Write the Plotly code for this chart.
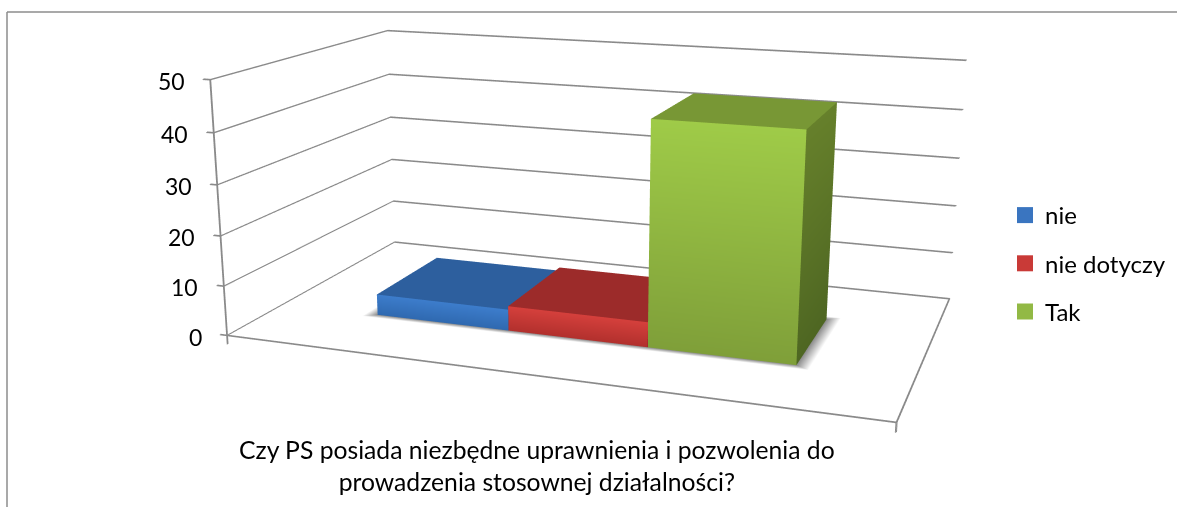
import numpy as np
import plotly.graph_objects as go

# ---- data ----
series = ["nie", "nie dotyczy", "Tak"]
values = [4.3, 5.0, 44.0]
ticks = [0, 10, 20, 30, 40, 50]
title_text = "Czy PS posiada niezbędne uprawnienia i pozwolenia do<br>prowadzenia stosownej działalności?"

# ---- colours ----
face_front_top = ["#3d7dcc", "#d5403c", "#9fcb48"]
face_front_bot = ["#2f69b0", "#b2302d", "#7f9f39"]
face_top = ["#2d5f9e", "#9c2b2a", "#789735"]
face_side = ["#285488", "#7f2221", "#66802b"]
face_side_bot = ["#234a78", "#6c1c1c", "#4e6622"]
legend_col = ["#3a75c0", "#c93a37", "#92b945"]
GRID = "#8a8a8a"

# ---- bar layout in the unit floor of the scene ----
BAR_START, BAR_W, DEPTH0, DEPTH1 = 0.1674, 0.2221, 0.3002, 0.6941

# ---- camera fitted to the reference's long-lens view ----
EYE = np.array([0.7401, -2.1454, 0.5561])
CEN = np.array([-0.1459, 0.2701, -0.1789])
AY, AZ = 0.5611, 0.3882
CX = 573.0
W, H, TOP = 1177, 1264, -378  # the scene is tall (narrow field of view); the page shows a window of it

xr = [-0.02, 1.004]
yr = [-0.002, 1.002]
zr = [-2.2, 50.4]
c = np.array([(sum(xr) / 2 - .5), (sum(yr) / 2 - .5) * AY, (sum(zr) / 2 / 50 - .5) * AZ])
eye = EYE - c
cen = CEN - c
LIGHT = dict(ambient=1, diffuse=0, specular=0, fresnel=0, roughness=1)


def py(y):
    return 1 - (y - TOP) / H


fig = go.Figure()

# soft shadow under the bars
n_bars = len(series)
sx0, sx1 = BAR_START, BAR_START + n_bars * BAR_W
dx, dy = 0.02, 0.025
xs = [sx0, sx1, sx1, sx0, sx0 - dx, sx1 + dx, sx1 + dx, sx0 - dx]
ys = [DEPTH0, DEPTH0, DEPTH1, DEPTH1, DEPTH0 - dy, DEPTH0 - dy, DEPTH1 + dy, DEPTH1 + dy]
vc = ["#8a8a8a"] * 4 + ["#ffffff"] * 4
ti, tj, tk = [], [], []
for a in range(4):
    b = (a + 1) % 4
    ti += [a, a]
    tj += [b, b + 4]
    tk += [b + 4, a + 4]
fig.add_trace(go.Mesh3d(x=xs, y=ys, z=[0] * 8, i=ti, j=tj, k=tk, vertexcolor=vc, lighting=LIGHT,
                        hoverinfo="skip", showlegend=False))

# walls' gridlines, floor outline and tick marks
gx, gy, gz = [], [], []
for t in ticks:
    gx += [0, 0, 1, None, -0.012, 0, None]
    gy += [0, 1, 1, None, 0, 0, None]
    gz += [t, t, t, None, t, t, None]
gx += [0, 0, None, 1, 1, None, 1, 0, None, 1, 1, None, 0, 0]
gy += [0, 0, None, 0, 0, None, 0, 0, None, 0, 1, None, 0, 0]
gz += [0, ticks[-1], None, 0, -1.8, None, 0, 0, None, 0, 0, None, 0, -1.8]
# WebGL draws these one pixel wide, so a slightly offset second pass gives the reference's heavier stroke
for ox, oz in [(0, 0), (0.0014, 0.13)]:
    fig.add_trace(go.Scatter3d(x=[None if v is None else v + ox for v in gx], y=gy,
                               z=[None if v is None else v + oz for v in gz], mode="lines",
                               line=dict(color=GRID, width=2), hoverinfo="skip", showlegend=False))

# bars
for n, name in enumerate(series):
    x0, x1 = BAR_START + n * BAR_W, BAR_START + (n + 1) * BAR_W
    y0, y1 = DEPTH0, DEPTH1
    h = values[n]
    X = [x0, x1, x1, x0, x0, x1, x1, x0, x1, x1, x1, x1]
    Y = [y0, y0, y0, y0, y0, y0, y1, y1, y0, y1, y1, y0]
    Z = [0, 0, h, h, h, h, h, h, 0, 0, h, h]
    C = [face_front_bot[n]] * 2 + [face_front_top[n]] * 2 + [face_top[n]] * 4 + [face_side_bot[n]] * 2 + [face_side[n]] * 2
    fig.add_trace(go.Mesh3d(x=X, y=Y, z=Z, i=[0, 0, 4, 4, 8, 8], j=[1, 2, 5, 6, 9, 10], k=[2, 3, 6, 7, 10, 11],
                            vertexcolor=C, lighting=LIGHT, hoverinfo="skip", showlegend=False))
    # legend key: the marker sits on the floor inside the bar, where the bar hides it
    fig.add_trace(go.Scatter3d(x=[(x0 + x1) / 2], y=[(y0 + y1) / 2], z=[0], mode="markers", name=name,
                               legendgroup=name, hoverinfo="skip",
                               marker=dict(symbol="square", size=16, color=legend_col[n])))

ann = [dict(x=0, y=0, z=t, text=str(t), showarrow=False, xanchor="right", xshift=-23, yshift=-1,
            font=dict(family="Lato", size=23, color="#000")) for t in ticks]

fig.update_layout(
    width=W, height=H, margin=dict(l=0, r=0, t=0, b=0), paper_bgcolor="white", hovermode=False,
    scene=dict(
        domain=dict(x=[0, 2 * CX / W], y=[0, 1]),
        aspectmode="manual",
        aspectratio=dict(x=xr[1] - xr[0], y=(yr[1] - yr[0]) * AY, z=(zr[1] - zr[0]) / 50 * AZ),
        camera=dict(eye=dict(x=eye[0], y=eye[1], z=eye[2]), center=dict(x=cen[0], y=cen[1], z=cen[2]),
                    up=dict(x=0, y=0, z=1)),
        xaxis=dict(visible=False, range=xr), yaxis=dict(visible=False, range=yr), zaxis=dict(visible=False, range=zr),
        annotations=ann, bgcolor="rgba(0,0,0,0)"),
    legend=dict(x=1005 / W, xanchor="left", y=py(193), yanchor="top", font=dict(family="Lato", size=24, color="#000"),
                traceorder="grouped", tracegroupgap=14, itemclick=False, itemdoubleclick=False,
                bgcolor="rgba(0,0,0,0)"),
    shapes=[dict(type="line", xref="paper", yref="paper", x0=7 / W, x1=1, y0=py(12), y1=py(12),
                 line=dict(color="#8c8c8c", width=1.5)),
            dict(type="line", xref="paper", yref="paper", x0=7 / W, x1=7 / W, y0=py(12), y1=py(507),
                 line=dict(color="#8c8c8c", width=1.5))],
    annotations=[dict(xref="paper", yref="paper", x=536.5 / W, y=py(465), text=title_text, showarrow=False,
                      font=dict(family="Lato", size=24.7, color="#000"), align="center",
                      xanchor="center", yanchor="middle")])

post = ("var gd=document.getElementById('{plot_id}');var w=gd.parentElement;w.style.position='absolute';"
        "w.style.top='%dpx';w.style.left='0';document.documentElement.style.overflow='hidden';"
        "document.body.style.overflow='hidden';document.body.style.margin='0';" % TOP)
fig.write_html("out.html", post_script=post, config=dict(displayModeBar=False))
